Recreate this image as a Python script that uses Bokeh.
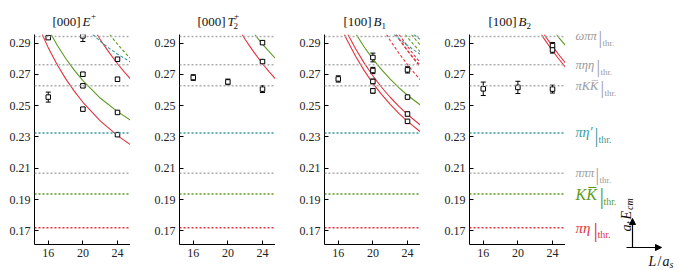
import math
from bokeh.plotting import figure
from bokeh.layouts import row, column
from bokeh.models import (Range1d, Span, Whisker, ColumnDataSource,
                          FixedTicker, NumeralTickFormatter, TeeHead, Arrow, NormalHead)
from bokeh.core.properties import value
from bokeh.embed import file_html
from bokeh.resources import INLINE

# ---------------- data ----------------
L_ticks = [16, 20, 24]
E_ticks = [0.17, 0.19, 0.21, 0.23, 0.25, 0.27, 0.29]

thr_names = ["ωππ", "πηη", "πKK\u0305", "πη′", "πππ", "KK\u0305", "πη"]
thr_E = [0.2943, 0.2761, 0.2627, 0.2326, 0.2069, 0.1935, 0.1720]

# [000] E+ levels
eplus_L = [16, 16, 20, 20, 20, 20, 24, 24, 24, 24]
eplus_E = [0.2935, 0.2555, 0.2946, 0.2701, 0.2627, 0.2478, 0.2797, 0.2669, 0.2457, 0.2315]
eplus_err = [0.0008, 0.0032, 0.0036, 0.0012, 0.0008, 0.0010, 0.0010, 0.0012, 0.0007, 0.0010]

# [000] T2+ levels
t2_L = [16, 20, 24, 24, 24]
t2_E = [0.2680, 0.2652, 0.2903, 0.2782, 0.2606]
t2_err = [0.0018, 0.0018, 0.0010, 0.0010, 0.0022]

# [100] B1 levels
b1_L = [16, 20, 20, 20, 20, 24, 24, 24, 24]
b1_E = [0.2671, 0.2808, 0.2725, 0.2655, 0.2595, 0.2729, 0.2555, 0.2447, 0.2400]
b1_err = [0.0020, 0.0028, 0.0020, 0.0015, 0.0015, 0.0020, 0.0008, 0.0012, 0.0012]

# [100] B2 levels
b2_L = [16, 20, 24, 24, 24]
b2_E = [0.2608, 0.2617, 0.2606, 0.2884, 0.2856]
b2_err = [0.0043, 0.0039, 0.0025, 0.0020, 0.0020]

# non-interacting curves
pieta_n1_L = [15.3, 16, 17, 18, 19, 20, 22, 24, 25.5]
pieta_n1_E = [0.2955, 0.2871, 0.2765, 0.2673, 0.2593, 0.2522, 0.2403, 0.2309, 0.2251]
kk_n1_L = [16.34, 17, 18, 19, 20, 22, 24, 25.5]
kk_n1_E = [0.2955, 0.2890, 0.2803, 0.2727, 0.2660, 0.2549, 0.2462, 0.2407]
pieta_n2_L = [21.65, 22, 22.5, 23, 24, 24.75, 25.5]
pieta_n2_E = [0.2955, 0.2923, 0.2882, 0.2842, 0.2768, 0.2718, 0.2671]
pietap_n1_L = [21.15, 22, 23, 24, 25.5]
pietap_n1_E = [0.2955, 0.2912, 0.2868, 0.2830, 0.2779]
kk_n2_L = [23.11, 23.5, 24, 24.5, 25.5]
kk_n2_E = [0.2955, 0.2927, 0.2893, 0.2861, 0.2801]

b1_pieta12_L = [16.7, 17, 18, 19, 20, 21, 22, 23, 24, 25.5]
b1_pieta12_E = [0.2955, 0.2921, 0.2816, 0.2724, 0.2643, 0.2572, 0.2508, 0.2451, 0.2400, 0.2333]
b1_pieta21_L = [17.12, 18, 19, 20, 21, 22, 23, 24, 25.5]
b1_pieta21_E = [0.2955, 0.2864, 0.2772, 0.2691, 0.2618, 0.2554, 0.2496, 0.2444, 0.2376]
b1_kk21_L = [18.08, 19, 20, 21, 22, 23, 24, 25.5]
b1_kk21_E = [0.2955, 0.2875, 0.2798, 0.2730, 0.2670, 0.2616, 0.2567, 0.2504]

pieta14_L = [21.58, 22, 23, 24, 24.75, 25.5]
pieta14_E = [0.2955, 0.2917, 0.2836, 0.2762, 0.2712, 0.2665]
pieta41_L = [22.65, 23, 24, 24.75, 25.5]
pieta41_E = [0.2955, 0.2926, 0.2852, 0.2801, 0.2754]
pieta23_L = [22.72, 23, 24, 24.75, 25.5]
pieta23_E = [0.2955, 0.2930, 0.2851, 0.2797, 0.2746]
pieta32_L = [23.03, 24, 24.75, 25.5]
pieta32_E = [0.2955, 0.2879, 0.2824, 0.2773]
kk14_L = [23.74, 24, 24.75, 25.5]
kk14_E = [0.2955, 0.2936, 0.2888, 0.2843]
kk23_L = [24.46, 24.75, 25.5]
kk23_E = [0.2955, 0.2934, 0.2885]
pietap12_L = [22.46, 23, 24, 24.75, 25.5]
pietap12_E = [0.2955, 0.2929, 0.2885, 0.2855, 0.2828]
pietap21_L = [24.72, 25.5]
pietap21_E = [0.2955, 0.2923]

# ---------------- style / layout ----------------
RED = "#e2323e"
GREEN = "#5a9b1e"
TEAL = "#3a9a9c"
GREY = "#adadad"
GREY_TXT = "#9a9a9a"
INK = "#111111"
SERIF = "Liberation Serif"

thr_color = {"ωππ": GREY, "πηη": GREY, "πKK\u0305": GREY, "πη′": TEAL,
             "πππ": GREY, "KK\u0305": GREEN, "πη": RED}
thr_txt_color = {"ωππ": GREY_TXT, "πηη": GREY_TXT, "πKK\u0305": GREY_TXT, "πη′": TEAL,
                 "πππ": GREY_TXT, "KK\u0305": GREEN, "πη": RED}
thr_size = {"ωππ": 12.5, "πηη": 12.5, "πKK\u0305": 12.5, "πη′": 14,
            "πππ": 12.5, "KK\u0305": 16, "πη": 15}
thr_bar_dx = {"ωππ": 23, "πηη": 21, "πKK\u0305": 25, "πη′": 19,
              "πππ": 20, "KK\u0305": 24, "πη": 18}

X_RANGE = (14.41, 25.5)
Y_RANGE = (0.1613, 0.2955)
FRAME_W, FRAME_H = 96, 210
TOP = 34            # page y of frame top
BOTTOM = 27         # space under frame
TOTAL_H = TOP + FRAME_H + BOTTOM   # 271
PANEL_H = FRAME_H + BOTTOM
LEFT0 = 34          # first frame left
GAP = 49            # left border of other panels
STRIP_X0 = LEFT0 + 4 * FRAME_W + 3 * GAP   # 565
TOTAL_W = 678


def E2py(E):
    return TOP + (Y_RANGE[1] - E) * FRAME_H / (Y_RANGE[1] - Y_RANGE[0])


def bare(width, height, x0, x1, y0, y1):
    f = figure(width=width, height=height, x_range=Range1d(x0, x1), y_range=Range1d(y0, y1),
               min_border_left=0, min_border_right=0, min_border_top=0, min_border_bottom=0,
               x_axis_type=None, y_axis_type=None,
               output_backend="svg", toolbar_location=None)
    f.grid.visible = False
    f.outline_line_color = None
    f.background_fill_color = None
    f.border_fill_color = None
    return f


def add_texts(f, items, baseline="alphabetic"):
    # items: (text, x, y, size, style, color, angle)
    src = ColumnDataSource(dict(
        t=[i[0] for i in items], x=[i[1] for i in items], y=[i[2] for i in items],
        s=[f"{i[3]}px" for i in items], st=[i[4] for i in items],
        c=[i[5] for i in items], a=[i[6] for i in items]))
    f.text(x="x", y="y", text="t", source=src, text_font=value(SERIF),
           text_font_size="s", text_font_style="st", text_color="c", angle="a",
           text_align="left", text_baseline=baseline)


def make_panel(first, pts, curves):
    w = (LEFT0 if first else GAP) + FRAME_W
    p = figure(width=w, height=PANEL_H,
               x_range=Range1d(*X_RANGE), y_range=Range1d(*Y_RANGE),
               min_border_left=LEFT0 if first else GAP, min_border_right=0,
               min_border_top=0, min_border_bottom=BOTTOM,
               output_backend="svg", toolbar_location=None)
    p.grid.visible = False
    p.outline_line_color = None
    p.background_fill_color = None
    p.border_fill_color = None
    for ax in (p.xaxis[0], p.yaxis[0]):
        ax.major_tick_in = 4
        ax.major_tick_out = 0
        ax.minor_tick_line_color = None
        ax.axis_line_color = "black"
        ax.major_tick_line_color = "black"
        ax.major_label_text_font = SERIF
        ax.major_label_text_font_size = "12px"
        ax.major_label_text_color = "#222222"
    p.xaxis.ticker = FixedTicker(ticks=L_ticks)
    p.yaxis.ticker = FixedTicker(ticks=E_ticks)
    p.yaxis.formatter = NumeralTickFormatter(format="0.00")
    p.yaxis.major_label_standoff = 4
    p.xaxis.major_label_standoff = 4

    for name, e in zip(thr_names, thr_E):
        p.add_layout(Span(location=e, dimension="width", line_color=thr_color[name],
                          line_width=1.5, line_dash="2 2"))

    for (xs, ys, col, dash) in curves:
        p.line(xs, ys, line_color=col, line_width=1.1, line_dash=dash)

    L, E, err = pts
    src = ColumnDataSource(dict(L=L, E=E, lo=[e - d for e, d in zip(E, err)],
                                hi=[e + d for e, d in zip(E, err)]))
    p.add_layout(Whisker(base="L", lower="lo", upper="hi", source=src,
                         line_color="black", line_width=1,
                         lower_head=TeeHead(size=5, line_color="black", line_width=1),
                         upper_head=TeeHead(size=5, line_color="black", line_width=1)))
    p.scatter("L", "E", source=src, marker="square", size=4.5,
              fill_color="white", line_color="black", line_width=1)
    return p


p1 = make_panel(True, (eplus_L, eplus_E, eplus_err),
                [(pieta_n1_L, pieta_n1_E, RED, "solid"),
                 (kk_n1_L, kk_n1_E, GREEN, "solid"),
                 (pieta_n2_L, pieta_n2_E, RED, "solid"),
                 (pietap_n1_L, pietap_n1_E, TEAL, "3 2"),
                 (kk_n2_L, kk_n2_E, GREEN, "3 2")])

p2 = make_panel(False, (t2_L, t2_E, t2_err),
                [(pieta_n2_L, pieta_n2_E, RED, "solid"),
                 (kk_n2_L, kk_n2_E, GREEN, "solid")])

p3 = make_panel(False, (b1_L, b1_E, b1_err),
                [(b1_pieta12_L, b1_pieta12_E, RED, "solid"),
                 (b1_pieta21_L, b1_pieta21_E, RED, "solid"),
                 (b1_kk21_L, b1_kk21_E, GREEN, "solid"),
                 (pieta14_L, pieta14_E, RED, "3 2"),
                 (pieta41_L, pieta41_E, RED, "3 2"),
                 (pieta23_L, pieta23_E, RED, "3 2"),
                 (pieta32_L, pieta32_E, RED, "3 2"),
                 (kk14_L, kk14_E, GREEN, "3 2"),
                 (kk23_L, kk23_E, GREEN, "3 2"),
                 (pietap12_L, pietap12_E, TEAL, "3 2"),
                 (pietap21_L, pietap21_E, TEAL, "3 2")])

p4 = make_panel(False, (b2_L, b2_E, b2_err),
                [(pieta23_L, pieta23_E, RED, "solid"),
                 (pieta32_L, pieta32_E, RED, "solid"),
                 (kk23_L, kk23_E, GREEN, "solid")])

# ---------------- title strip (page-pixel coords, y measured up from strip bottom) ----------------
pt = bare(STRIP_X0, TOP, 0, STRIP_X0, 0, TOP)
TB = 13  # baseline height above strip bottom
TS = 13  # title font size
title_items = [
    ("[000]", 52, TB, TS, "normal", INK, 0), ("E", 82, TB, TS, "italic", INK, 0),
    ("+", 90.5, TB + 6, 9, "normal", INK, 0),
    ("[000]", 197, TB, TS, "normal", INK, 0), ("T", 227, TB, TS, "italic", INK, 0),
    ("+", 233.5, TB + 6, 9, "normal", INK, 0), ("2", 233, TB - 4, 9, "normal", INK, 0),
    ("[100]", 343, TB, TS, "normal", INK, 0), ("B", 373, TB, TS, "italic", INK, 0),
    ("1", 381, TB - 4, 9, "normal", INK, 0),
    ("[100]", 488, TB, TS, "normal", INK, 0), ("B", 518, TB, TS, "italic", INK, 0),
    ("2", 526, TB - 4, 9, "normal", INK, 0),
]
add_texts(pt, title_items)

# ---------------- right-hand label strip ----------------
SW = TOTAL_W - STRIP_X0
pl = bare(SW, TOTAL_H, STRIP_X0, TOTAL_W, 0, TOTAL_H)


def Y(page_y):
    return TOTAL_H - page_y


X0 = 575
thr_items = []
for name, e in zip(thr_names, thr_E):
    y = E2py(e)
    col = thr_txt_color[name]
    s = thr_size[name]
    bx = X0 + thr_bar_dx[name]
    thr_items.append((name, X0, Y(y), s, "italic", col, 0))
    thr_items.append(("|", bx, Y(y + 2), round(s * 1.45), "normal", col, 0))
    thr_items.append(("thr.", bx + 4, Y(y + 7), 9 if s < 14 else 10, "normal", col, 0))
add_texts(pl, thr_items, baseline="middle")

pl.add_layout(Arrow(end=NormalHead(size=6, fill_color="black", line_color="black"),
                    x_start=632, y_start=Y(247), x_end=632, y_end=Y(218),
                    line_color="black", line_width=1.2))
pl.add_layout(Arrow(end=NormalHead(size=6, fill_color="black", line_color="black"),
                    x_start=626, y_start=Y(247), x_end=661, y_end=Y(247),
                    line_color="black", line_width=1.2))
key_items = [
    ("a", 626, Y(231), 14, "italic", INK, math.pi / 2),
    ("t", 629, Y(223.5), 10, "italic", INK, math.pi / 2),
    ("E", 626, Y(219), 14, "italic", INK, math.pi / 2),
    ("cm", 629, Y(209.5), 10, "italic", INK, math.pi / 2),
    ("L", 648, Y(261), 14, "italic", INK, 0),
    ("/", 657, Y(261), 14, "normal", INK, 0),
    ("a", 662, Y(261), 14, "italic", INK, 0),
    ("s", 669, Y(264), 10, "italic", INK, 0),
]
add_texts(pl, key_items)

layout = row(column(pt, row(p1, p2, p3, p4, spacing=0), spacing=0), pl, spacing=0)
open("out.html", "w").write(file_html(layout, INLINE))
